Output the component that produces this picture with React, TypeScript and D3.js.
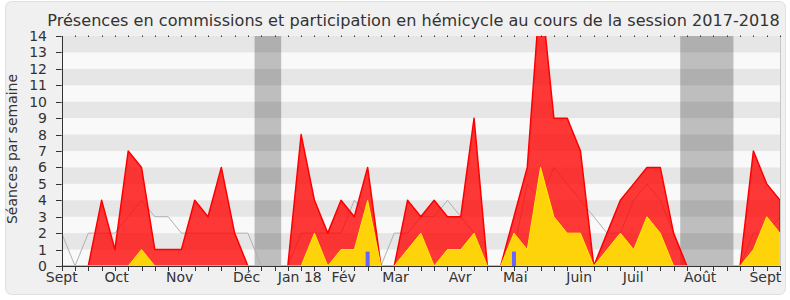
import React from "react";
import * as d3 from "d3";

const W = 790;
const H = 300;

// weekly values (index = week of session)
const presences = [0,0,0,4,1,7,6,1,1,1, 4,3,6,2,0,0,0,0,8,4, 2,4,3,6,0,0,4,3,4,3, 3,9,0,0,3,6,17,9,9,7, 0,2,4,5,6,6,2,0,0,0, 0,0,7,5,4];
const hemicycle = [0,0,0,0,0,0,1,0,0,0, 0,0,0,0,0,0,0,0,0,2, 0,1,1,4,0,0,1,2,0,1, 1,2,0,0,2,1,6,3,2,2, 0,1,2,1,3,2,0,0,0,0, 0,0,1,3,2];
const mediane = [2,0,2,2,2,3,4,3,3,2, 2,2,2,2,2,0,0,0,2,2, 2,2,4,3,0,2,2,3,3,4, 3,2,0,0,1,5,4,6,5,4, 3,2,2,4,5,4,2,0,0,0, 0,0,2,2,3];
const questions = [0,0,0,0,0,0,0,0,0,0, 0,0,0,0,0,0,0,0,0,0, 0,0,0,1,0,0,0,0,0,0, 0,0,0,0,1,0,0,0,0,0, 0,0,0,0,0,0,0,0,0,0, 0,0,0,0,0];

const vacances: [number, number][] = [[14.5, 16.5], [46.5, 50.5]];

const monthLabels = ["Sept", "Oct", "Nov", "Déc", "Jan 18", "Fév", "Mar", "Avr", "Mai", "Juin", "Juil", "Août", "Sept"];
const monthPos = [0, 4.13, 8.87, 13.9, 17.9, 21.2, 25.1, 29.95, 34.1, 38.9, 42.96, 48, 52.9];

const yTicks = d3.range(0, 15);
const nWeeks = 54;

export default function App() {
  const left = 61.7, right = 780, top = 36, bottom = 266;
  const x = d3.scaleLinear().domain([0, nWeeks]).range([left, right]);
  const y = d3.scaleLinear().domain([0, 14]).range([bottom, top]);

  const area = d3.area<number>()
    .x((_, i) => x(i))
    .y0(y(0))
    .y1((d) => y(d));
  const line = d3.line<number>().x((_, i) => x(i)).y((d) => y(d));

  const font = "DejaVu Sans, Verdana, sans-serif";
  const weekTicks = d3.range(0, nWeeks + 1);

  return (
    <div style={{ position: "absolute", left: 0, top: 0 }}>
      <svg width={W} height={H} style={{ display: "block" }}>
        <defs>
          <clipPath id="plotclip">
            <rect x={left} y={top} width={right - left} height={bottom - top + 2} />
          </clipPath>
        </defs>
        <rect x={5.5} y={1.5} width={780} height={293} rx={6} fill="#F0F0F0" stroke="#E0E0E0" />
        <text x={413.5} y={26} textAnchor="middle" fontFamily={font} fontSize={16.1} fill="#333">
          Présences en commissions et participation en hémicycle au cours de la session 2017-2018
        </text>
        {/* plot background */}
        <rect x={left} y={top} width={right - left} height={bottom - top} fill="#F9F9F9" />
        {vacances.map(([a, b], i) => (
          <rect key={"v" + i} x={x(a)} y={top} width={x(b) - x(a)} height={bottom - top} fill="#BEBEBE" />
        ))}
        {yTicks.slice(0, 14).filter((k) => k % 2 === 1).map((k) => (
          <rect key={"s" + k} x={left} y={y(k + 1)} width={right - left} height={y(k) - y(k + 1)} fill="#000" fillOpacity={0.075} />
        ))}
        <g clipPath="url(#plotclip)">
          <path d={line(mediane) || ""} fill="none" stroke="#B0B0B0" strokeWidth={1} />
          <path d={area(presences) || ""} fill="#FF0000" fillOpacity={0.78} stroke="#FF0000" strokeWidth={1.5} strokeLinejoin="round" />
          <path d={area(hemicycle) || ""} fill="#FFD30A" stroke="#FFEE00" strokeWidth={1} />
          {questions.map((q, i) =>
            q > 0 ? (
              <rect key={"q" + i} x={x(i) - 2} y={y(q) + 2} width={4} height={y(0) - y(q) - 2} fill="#6666FF" />
            ) : null
          )}
        </g>
        {/* right border */}
        <line x1={right + 0.5} x2={right + 0.5} y1={top} y2={bottom} stroke="#C8C8C8" />
        {/* top dots */}
        {weekTicks.slice(1).map((w) => (
          <line key={"t" + w} x1={Math.round(x(w)) + 0.5} x2={Math.round(x(w)) + 0.5} y1={35.5} y2={37} stroke="#333" />
        ))}
        {/* x axis */}
        <line x1={left} x2={right + 1} y1={bottom + 0.5} y2={bottom + 0.5} stroke="#333" />
        {weekTicks.map((w) => (
          <line key={"b" + w} x1={Math.round(x(w)) + 0.5} x2={Math.round(x(w)) + 0.5} y1={bottom} y2={bottom + 5} stroke="#333" />
        ))}
        {monthLabels.map((m, i) => (
          <text key={"m" + i} x={x(monthPos[i])} y={282} textAnchor="middle" fontFamily={font} fontSize={14} fill="#333">
            {m}
          </text>
        ))}
        {/* y axis */}
        <line x1={Math.round(left) + 0.5} x2={Math.round(left) + 0.5} y1={top} y2={bottom + 1} stroke="#333" />
        {yTicks.map((k) => (
          <g key={"y" + k}>
            <line x1={56} x2={left} y1={Math.round(y(k)) + 0.5} y2={Math.round(y(k)) + 0.5} stroke="#333" />
            <text x={47} y={y(k) + 5} textAnchor="end" fontFamily={font} fontSize={14} fill="#333">
              {k}
            </text>
          </g>
        ))}
        <text transform={`translate(17,149) rotate(-90)`} textAnchor="middle" fontFamily={font} fontSize={14} fill="#333">
          Séances par semaine
        </text>
      </svg>
    </div>
  );
}
